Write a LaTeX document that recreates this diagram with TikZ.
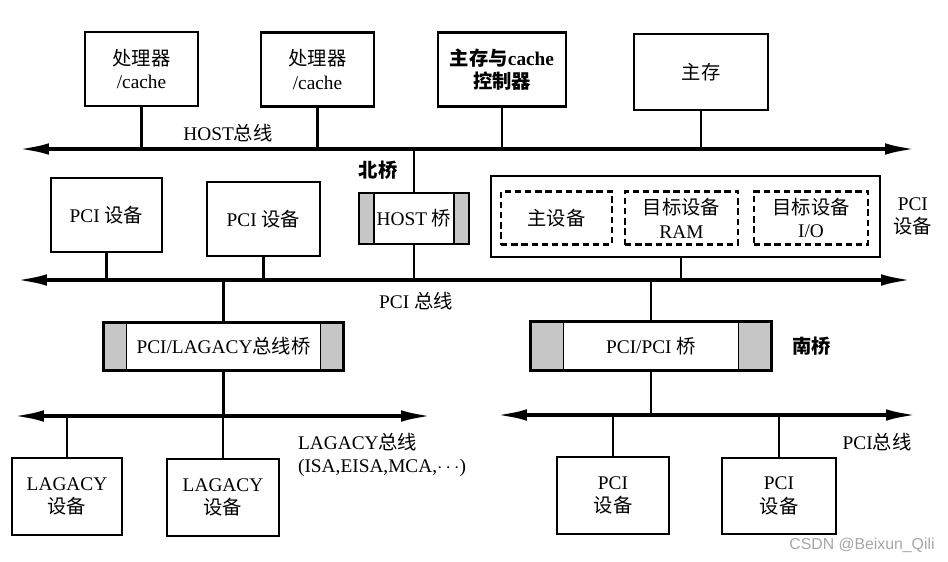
\documentclass[tikz,border=0pt]{standalone}
\usepackage{fontspec}
\setmainfont{Liberation Serif}
\newfontfamily\cjk{Noto Sans CJK SC}
\newfontfamily\wmfont{Liberation Sans}
\usetikzlibrary{arrows.meta,positioning,calc}
\newcommand{\zh}[1]{{\cjk #1}}
\tikzset{
  unit/.style={rectangle,draw,line width=1.6pt,fill=white,align=center,inner sep=2pt,font=\fontsize{11}{13.5}\selectfont},
  subunit/.style={rectangle,draw,dash pattern=on 3.6pt off 2.2pt,line width=1.3pt,align=center,inner sep=2pt,font=\fontsize{11}{13.5}\selectfont},
  bridge/.style={unit,path picture={
      \fill[gray!45] (path picture bounding box.north west) rectangle ([xshift=#1]path picture bounding box.south west);
      \fill[gray!45] (path picture bounding box.north east) rectangle ([xshift=-#1]path picture bounding box.south east);
      \draw[line width=0.8pt] ([xshift=#1]path picture bounding box.north west) -- ([xshift=#1]path picture bounding box.south west);
      \draw[line width=0.8pt] ([xshift=-#1]path picture bounding box.north east) -- ([xshift=-#1]path picture bounding box.south east);
  }},
  bridge/.default=0.3cm,
  bus/.style={{Latex[length=6.4mm,width=2.3mm]}-{Latex[length=6.4mm,width=2.3mm]},line width=2.3pt},
  wire/.style={line width=1.4pt},
  tag/.style={font=\fontsize{11}{13.5}\selectfont,align=center,inner sep=1pt},
  boldtag/.style={font=\fontsize{11}{13.5}\selectfont\bfseries,align=center,inner sep=1pt}
}

\begin{document}
\begin{tikzpicture}[x=0.02cm,y=-0.02cm]
    \useasboundingbox (0,0) rectangle (948,562);

    % host side
    \node[unit,minimum width=2.26cm,minimum height=1.48cm] (cpu1) at (141.5,69) {\zh{处理器}\\/cache};
    \node[unit,minimum width=2.26cm,minimum height=1.48cm] (cpu2) at (317.5,69.5) {\zh{处理器}\\/cache};
    \node[unit,minimum width=2.56cm,minimum height=1.48cm,font=\fontsize{11}{13.5}\selectfont\bfseries] (memctl) at (502,69.5) {{\cjk\bfseries 主存与}cache\\{\cjk\bfseries 控制器}};
    \node[unit,minimum width=2.68cm,minimum height=1.52cm] (mem) at (701,72) {\zh{主存}};

    \coordinate (hostL) at (17,149);
    \coordinate (hostR) at (917,149);
    \draw[wire] (cpu1.south) -- (cpu1.south |- hostL);
    \draw[wire] (cpu2.south) -- (cpu2.south |- hostL);
    \draw[wire] (memctl.south) -- (memctl.south |- hostL);
    \draw[wire] (mem.south) -- (mem.south |- hostL);
    \draw[bus] (hostL) -- (hostR);
    \node[tag] (hostlab) at (228,133) {HOST\zh{总线}};

    % north bridge and pci devices
    \node[bridge,minimum width=2.2cm,minimum height=1.02cm] (hostbr) at (414,218.5) {HOST \zh{桥}};
    \node[boldtag] (north) at (378,170) {{\cjk\bfseries 北桥}};
    \node[unit,minimum width=2.22cm,minimum height=1.48cm] (pci1) at (106.5,215) {PCI \zh{设备}};
    \node[unit,minimum width=2.26cm,minimum height=1.48cm] (pci2) at (263.5,219) {PCI \zh{设备}};
    \node[unit,minimum width=7.78cm,minimum height=1.62cm] (pcibox) at (685.5,216.5) {};
    \node[subunit,minimum width=2.22cm,minimum height=1.06cm] (master) at (556.5,218) {\zh{主设备}};
    \node[subunit,minimum width=2.26cm,minimum height=1.06cm] (ram) at (681.5,218) {\zh{目标设备}\\RAM};
    \node[subunit,minimum width=2.28cm,minimum height=1.06cm] (io) at (811,218) {\zh{目标设备}\\I/O};
    \node[tag,right=0.2cm of pcibox] (pcilab) {PCI\\\zh{设备}};

    \coordinate (pciL) at (15,280);
    \coordinate (pciR) at (913,280);
    \draw[wire] (hostbr.north) -- (hostbr.north |- hostL);
    \draw[wire] (hostbr.south) -- (hostbr.south |- pciL);
    \draw[wire] (pci1.south) -- (pci1.south |- pciL);
    \draw[wire] (pci2.south) -- (pci2.south |- pciL);
    \draw[wire] ([xshift=-0.09cm]pcibox.south) -- ([xshift=-0.09cm]pcibox.south |- pciL);
    \draw[bus] (pciL) -- (pciR);
    \node[tag] (pcibuslab) at (416,301) {PCI \zh{总线}};

    % lagacy side
    \node[bridge=0.46cm,minimum width=4.8cm,minimum height=0.96cm] (lagbr) at (223.5,346.5) {PCI/LAGACY\zh{总线桥}};
    \coordinate (lagL) at (12,416);
    \coordinate (lagR) at (433,416);
    \draw[wire] (lagbr.north) -- (lagbr.north |- pciL);
    \draw[wire] (lagbr.south) -- (lagbr.south |- lagL);
    \draw[bus] (lagL) -- (lagR);
    \node[tag,align=left,anchor=west] (laglab) at (296,455) {LAGACY\zh{总线}\\(ISA,EISA,MCA,$\cdots$)};
    \node[unit,minimum width=2.2cm,minimum height=1.54cm] (lag1) at (67,496.5) {LAGACY\\\zh{设备}};
    \node[unit,minimum width=2.24cm,minimum height=1.54cm] (lag2) at (223,497.5) {LAGACY\\\zh{设备}};
    \draw[wire] (lag1.north) -- (lag1.north |- lagL);
    \draw[wire] (lag2.north) -- (lag2.north |- lagL);

    % south bridge side
    \node[bridge=0.66cm,minimum width=4.82cm,minimum height=0.98cm] (southbr) at (651,346) {PCI/PCI \zh{桥}};
    \node[boldtag,right=0.35cm of southbr] (south) {{\cjk\bfseries 南桥}};
    \coordinate (sbL) at (495,415);
    \coordinate (sbR) at (918,415);
    \draw[wire] (southbr.north) -- (southbr.north |- pciL);
    \draw[wire] (southbr.south) -- (southbr.south |- sbL);
    \draw[bus] (sbL) -- (sbR);
    \node[tag] (sblab) at (877,442) {PCI\zh{总线}};
    \node[unit,minimum width=2.24cm,minimum height=1.54cm] (pcid1) at (613,495.5) {PCI\\\zh{设备}};
    \node[unit,minimum width=2.28cm,minimum height=1.52cm] (pcid2) at (779,496) {PCI\\\zh{设备}};
    \draw[wire] (pcid1.north) -- (pcid1.north |- sbL);
    \draw[wire] (pcid2.north) -- (pcid2.north |- sbL);

    \node[font=\wmfont\fontsize{9}{11}\selectfont,text=gray!70] (mark) at (862,545) {CSDN @Beixun\_Qili};
  \end{tikzpicture}
\end{document}
